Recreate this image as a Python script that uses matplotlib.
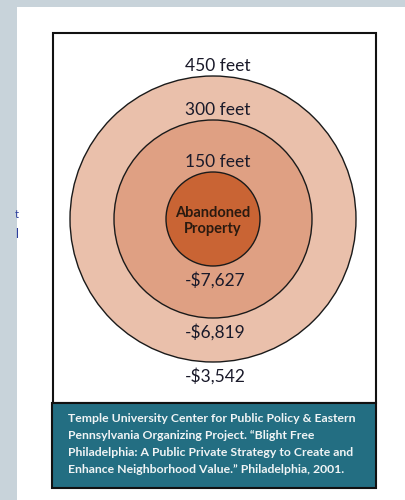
import matplotlib.pyplot as plt
from matplotlib.patches import Circle, Rectangle

# rings, inner to outer
ring_feet = [150, 300, 450]
ring_loss = ['-$7,627', '-$6,819', '-$3,542']
ring_colors = ['#c96434', '#dfa083', '#eac0ab']
ring_radius = [47, 99, 143]  # drawn size in px (not to scale)

center_label = 'Abandoned\nProperty'
source_text = ('Temple University Center for Public Policy & Eastern\n'
               'Pennsylvania Organizing Project. \u201cBlight Free\n'
               'Philadelphia: A Public Private Strategy to Create and\n'
               'Enhance Neighborhood Value.\u201d Philadelphia, 2001.')

plt.rcParams['font.family'] = ['Lato', 'DejaVu Sans']

fig = plt.figure(figsize=(4.05, 5.0), dpi=100)
fig.patch.set_facecolor('#c8d3da')
ax = fig.add_axes([0, 0, 1, 1])
ax.set_xlim(0, 405)
ax.set_ylim(500, 0)
ax.axis('off')

# white page and boxed figure
ax.add_patch(Rectangle((17, 7), 400, 500, facecolor='white', edgecolor='none'))
ax.add_patch(Rectangle((53, 33), 323, 370, facecolor='white', edgecolor='#111111', lw=1.5))
ax.add_patch(Rectangle((52, 403), 324, 85, facecolor='#236e82', edgecolor='#111111', lw=1.5))

cx, cy = 213, 219
for r, col in reversed(list(zip(ring_radius, ring_colors))):
    ax.add_patch(Circle((cx, cy), r, facecolor=col, edgecolor='#1a1a1a', lw=1.0))

ax.text(cx, cy + 2, center_label, ha='center', va='center', fontsize=10.5,
        fontweight='bold', color='#2a1a10', linespacing=1.2)

for r, ft, loss in zip(ring_radius, ring_feet, ring_loss):
    ax.text(cx + 5, cy - r - 10, f'{ft} feet', ha='center', va='center',
            fontsize=12.5, color='#1a1a2a')
    ax.text(cx + 2, cy + r + 14, loss, ha='center', va='center',
            fontsize=12.5, color='#1a1a2a')

ax.text(68, 444, source_text, ha='left', va='center', fontsize=8.8,
        fontweight='bold', color='#f0f4f5', linespacing=1.7)

# stray fragments of page text at the left edge
ax.text(17, 215, 't', ha='center', va='center', fontsize=8, color='#2c3e9c')
ax.text(17, 234, 'l', ha='center', va='center', fontsize=9, color='#2c3e9c')

fig.savefig('out.png', dpi=100, facecolor=fig.get_facecolor())
